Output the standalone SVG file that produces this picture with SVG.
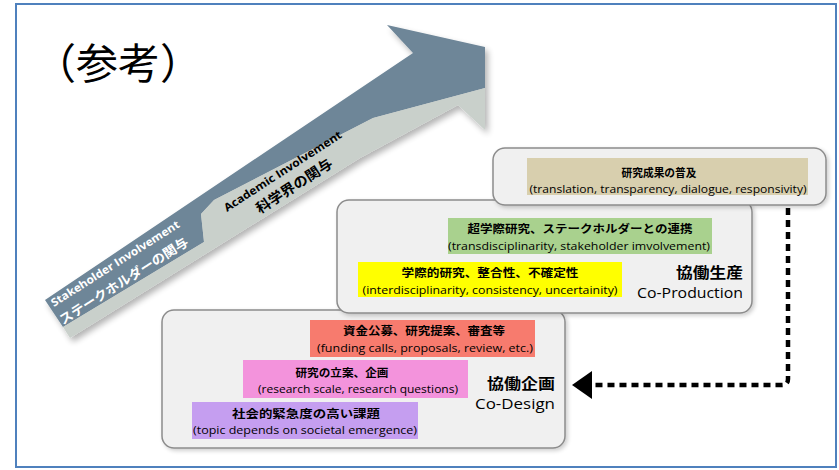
<svg xmlns="http://www.w3.org/2000/svg" width="839" height="470" viewBox="0 0 839 470">
<defs>
<style>
.frame{fill:#fff;stroke:#4f81bd;stroke-width:2}
.title{font-family:"Noto Sans CJK JP",sans-serif;font-size:42px;fill:#000}
.panel{fill:#f0f0f0;stroke:#8c8c8c;stroke-width:1.5}
.jp{font-family:"Noto Sans CJK JP",sans-serif;font-weight:700;font-size:11px;fill:#000;text-anchor:middle}
.en{font-family:"Open Sans",sans-serif;font-size:11.5px;fill:#000;text-anchor:middle}
.lab-jp{font-family:"Noto Sans CJK JP",sans-serif;font-weight:700;font-size:15px;fill:#000;text-anchor:end}
.lab-en{font-family:"Open Sans",sans-serif;font-size:14.5px;fill:#000;text-anchor:end}
.band-en{font-family:"Open Sans",sans-serif;font-weight:700;font-size:11px}
.band-jp{font-family:"Noto Sans CJK JP",sans-serif;font-weight:700;font-size:13px}
.dash{fill:none;stroke:#000;stroke-width:4.5;stroke-dasharray:7 5}
</style>
<filter id="sh" x="-10%" y="-10%" width="130%" height="140%">
<feGaussianBlur in="SourceAlpha" stdDeviation="3"/>
<feOffset dx="3" dy="4"/>
<feComponentTransfer><feFuncA type="linear" slope="0.3"/></feComponentTransfer>
<feMerge><feMergeNode/><feMergeNode in="SourceGraphic"/></feMerge>
</filter>
<filter id="psh" x="-5%" y="-10%" width="110%" height="130%">
<feGaussianBlur in="SourceAlpha" stdDeviation="2"/>
<feOffset dx="1.5" dy="2"/>
<feComponentTransfer><feFuncA type="linear" slope="0.2"/></feComponentTransfer>
<feMerge><feMergeNode/><feMergeNode in="SourceGraphic"/></feMerge>
</filter>
<marker id="head" markerUnits="userSpaceOnUse" markerWidth="22" markerHeight="30" refX="0" refY="14" orient="auto">
<path d="M0,0 L20,14 L0,28 Z" fill="#000"/>
</marker>
</defs>

<rect class="frame" x="16" y="4" width="820" height="463"/>

<text class="title" x="34" y="79">（参考）</text>

<g id="involvement-arrow">
<g filter="url(#sh)">
<path d="M45,300 L413,53 L387,25 L485,47 L485,88 L373,118 L214,200 L201,214 L204,242 L63,327 Z" fill="#6e8698"/>
<path d="M63,327 L204,242 L201,214 L214,200 L373,118 L485,88 L485,130 L458,105 L360,158 L70,338 Z" fill="#c9d0cb"/>
</g>
<text class="band-en" fill="#fff" transform="translate(54,307) rotate(-32.5)" textLength="150" lengthAdjust="spacingAndGlyphs">Stakeholder Involvement</text>
<text class="band-jp" fill="#fff" transform="translate(63,325) rotate(-32.5)" textLength="150" lengthAdjust="spacingAndGlyphs">ステークホルダーの関与</text>
<text class="band-en" fill="#000" transform="translate(227,212) rotate(-33)" textLength="138" lengthAdjust="spacingAndGlyphs">Academic Involvement</text>
<text class="band-jp" fill="#000" transform="translate(260,214) rotate(-33)" textLength="88" lengthAdjust="spacingAndGlyphs" style="font-size:14px">科学界の関与</text>
</g>

<g id="co-design">
<rect class="panel" filter="url(#psh)" x="162" y="310" width="403" height="138" rx="12"/>
<rect x="310" y="320" width="225" height="37" fill="#f77b6e"/>
<text class="jp" x="424" y="335" textLength="162" lengthAdjust="spacingAndGlyphs">資金公募、研究提案、審査等</text>
<text class="en" x="425" y="351.5" textLength="216" lengthAdjust="spacingAndGlyphs">(funding calls, proposals, review, etc.)</text>
<rect x="243" y="360" width="225" height="38" fill="#f393dc"/>
<text class="jp" x="342" y="377" textLength="93" lengthAdjust="spacingAndGlyphs">研究の立案、企画</text>
<text class="en" x="358" y="393" textLength="200" lengthAdjust="spacingAndGlyphs">(research scale, research questions)</text>
<rect x="192" y="402" width="226" height="37" fill="#c59ef0"/>
<text class="jp" x="306" y="418" textLength="148" lengthAdjust="spacingAndGlyphs">社会的緊急度の高い課題</text>
<text class="en" x="305" y="434" textLength="224" lengthAdjust="spacingAndGlyphs">(topic depends on societal emergence)</text>
<text class="lab-jp" x="555" y="389" textLength="68" lengthAdjust="spacingAndGlyphs">協働企画</text>
<text class="lab-en" x="555" y="409" textLength="80" lengthAdjust="spacingAndGlyphs">Co-Design</text>
</g>

<g id="co-production">
<rect class="panel" filter="url(#psh)" x="337" y="200" width="415" height="113" rx="12"/>
<rect x="448" y="218" width="264" height="36" fill="#a9d18e"/>
<text class="jp" x="580" y="233" textLength="225" lengthAdjust="spacingAndGlyphs">超学際研究、ステークホルダーとの連携</text>
<text class="en" x="579" y="249.5" textLength="262" lengthAdjust="spacingAndGlyphs">(transdisciplinarity, stakeholder imvolvement)</text>
<rect x="358" y="262" width="264" height="35" fill="#ffff00"/>
<text class="jp" x="490" y="277" textLength="177" lengthAdjust="spacingAndGlyphs">学際的研究、整合性、不確定性</text>
<text class="en" x="490" y="293.5" textLength="255" lengthAdjust="spacingAndGlyphs">(interdisciplinarity, consistency, uncertainity)</text>
<text class="lab-jp" x="743" y="278" textLength="67" lengthAdjust="spacingAndGlyphs">協働生産</text>
<text class="lab-en" x="743" y="298" textLength="106" lengthAdjust="spacingAndGlyphs">Co-Production</text>
</g>

<g id="dissemination">
<rect class="panel" filter="url(#psh)" x="493" y="148" width="333" height="57" rx="12"/>
<rect x="527" y="158" width="281" height="37" fill="#d8cfae"/>
<text class="jp" x="659" y="177" textLength="75" lengthAdjust="spacingAndGlyphs">研究成果の普及</text>
<text class="en" x="668" y="193" textLength="277" lengthAdjust="spacingAndGlyphs">(translation, transparency, dialogue, responsivity)</text>
</g>

<g id="connectors">
<path class="dash" d="M788,208 V379 Q788,385 782,385 H592" marker-end="url(#head)"/>
</g>
</svg>
